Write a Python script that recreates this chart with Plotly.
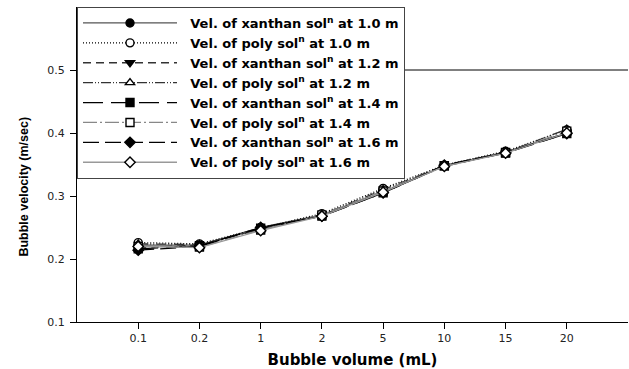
import plotly.graph_objects as go

volumes = ["0.1", "0.2", "1", "2", "5", "10", "15", "20"]
names = [
    "Vel. of xanthan sol<sup>n</sup> at 1.0 m",
    "Vel. of poly sol<sup>n</sup> at 1.0 m",
    "Vel. of xanthan sol<sup>n</sup> at 1.2 m",
    "Vel. of poly sol<sup>n</sup> at 1.2 m",
    "Vel. of xanthan sol<sup>n</sup> at 1.4 m",
    "Vel. of poly sol<sup>n</sup> at 1.4 m",
    "Vel. of xanthan sol<sup>n</sup> at 1.6 m",
    "Vel. of poly sol<sup>n</sup> at 1.6 m",
]
xan_10 = [0.222, 0.222, 0.250, 0.270, 0.306, 0.348, 0.370, 0.400]
poly_10 = [0.226, 0.224, 0.249, 0.272, 0.312, 0.349, 0.371, 0.405]
xan_12 = [0.218, 0.222, 0.248, 0.269, 0.306, 0.347, 0.369, 0.400]
poly_12 = [0.224, 0.223, 0.247, 0.270, 0.310, 0.348, 0.369, 0.406]
xan_14 = [0.216, 0.221, 0.249, 0.268, 0.305, 0.348, 0.368, 0.399]
poly_14 = [0.220, 0.219, 0.246, 0.270, 0.308, 0.348, 0.369, 0.403]
xan_16 = [0.214, 0.220, 0.250, 0.268, 0.305, 0.349, 0.369, 0.399]
poly_16 = [0.220, 0.218, 0.245, 0.268, 0.306, 0.347, 0.368, 0.400]
series = [xan_10, poly_10, xan_12, poly_12, xan_14, poly_14, xan_16, poly_16]
y_ticks = [0.1, 0.2, 0.3, 0.4, 0.5]

styles = [
    dict(symbol="circle", fill="black", color="#555555", dash="solid"),
    dict(symbol="circle", fill="white", color="black", dash="1px,2px"),
    dict(symbol="triangle-down", fill="black", color="#333333", dash="8px,5px"),
    dict(symbol="triangle-up", fill="white", color="#333333", dash="10px,2px,1px,2px,1px,2px"),
    dict(symbol="square", fill="black", color="black", dash="20px,8px"),
    dict(symbol="square", fill="white", color="#888888", dash="14px,3px,2px,3px"),
    dict(symbol="diamond", fill="black", color="black", dash="16px,6px"),
    dict(symbol="diamond", fill="white", color="#999999", dash="solid"),
]

NB = "\u00a0"
fig = go.Figure()

# reference line at 0.5 (covered by the legend box on the left)
fig.add_shape(type="line", xref="paper", yref="y", x0=0, x1=1, y0=0.5, y1=0.5,
              line=dict(color="black", width=1), layer="below")

for name, vals, st in zip(names, series, styles):
    fig.add_trace(go.Scatter(
        x=volumes, y=vals, name=NB * 2 + "<b>" + name + "</b>",
        mode="lines+markers",
        line=dict(color=st["color"], width=1.3, dash=st["dash"]),
        marker=dict(symbol=st["symbol"], size=8, color=st["fill"],
                    line=dict(color="black", width=1.4)),
    ))

fig.add_annotation(text="<b>Bubble velocity (m/sec)</b>", xref="paper", yref="paper",
                   x=-0.1125, y=0.43, textangle=-90, showarrow=False,
                   font=dict(family="Liberation Sans", size=12.5, color="black"))

fig.update_layout(
    width=629, height=369,
    margin=dict(l=77, r=1, t=7, b=47),
    paper_bgcolor="white", plot_bgcolor="white",
    font=dict(family="DejaVu Sans", color="black"),
    showlegend=True,
    legend=dict(x=0, y=1, xanchor="left", yanchor="top",
                bgcolor="white", bordercolor="#444444", borderwidth=1,
                font=dict(size=13, family="DejaVu Sans", color="black"),
                itemwidth=94, tracegroupgap=0),
    xaxis=dict(type="category", range=[-1, 8], showline=True, linecolor="black",
               linewidth=1, ticks="outside", ticklen=6, tickcolor="black",
               showgrid=False, zeroline=False,
               tickfont=dict(size=11, color="#222222", family="DejaVu Sans"),
               title=dict(text="<b>Bubble volume (mL)</b>",
                          font=dict(size=15, family="DejaVu Sans"), standoff=10)),
    yaxis=dict(range=[0.1, 0.6], tickvals=y_ticks, ticktext=[f"{v:.1f}" for v in y_ticks],
               showline=True, linecolor="black", linewidth=1, ticks="outside",
               ticklen=6, tickcolor="black", showgrid=False, zeroline=False,
               ticklabelstandoff=3,
               tickfont=dict(size=11, color="#222222", family="DejaVu Sans")),
)

fig.write_html("out.html")
